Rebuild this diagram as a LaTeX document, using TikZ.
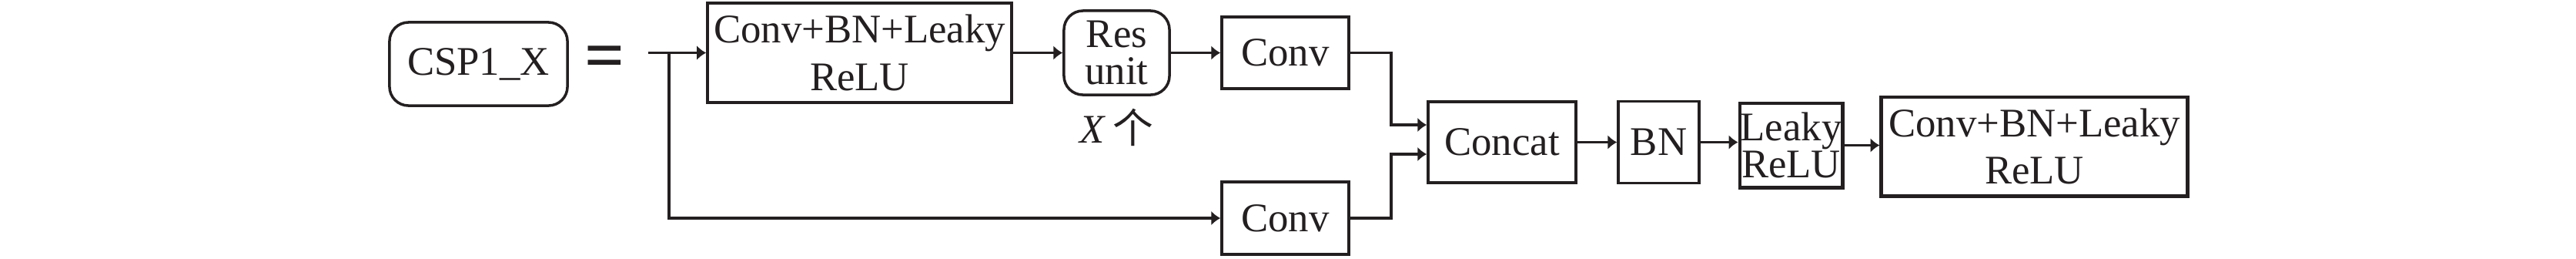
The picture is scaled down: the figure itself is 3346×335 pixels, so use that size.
\documentclass[tikz,border=0pt]{standalone}
\usepackage{fontspec}
\setmainfont{Liberation Serif}
\newfontfamily\cjk{Noto Sans CJK SC}
\usepackage{tikz}
\usetikzlibrary{arrows.meta,calc}
\definecolor{ink}{HTML}{231F20}
\tikzset{
  blk/.style={draw=ink, line width=1pt, fill=white, align=center, inner sep=0pt,
              text=ink, font=\fontsize{15}{17.4}\selectfont},
  tight/.style={blk, font=\fontsize{15}{13.4}\selectfont},
  rblk/.style={blk, rounded corners=5pt},
  hblk/.style={blk, line width=1.4pt},
  arr/.style={-{Latex[length=3.4pt,width=5.4pt]}, line width=1.1pt, draw=ink},
  lbl/.style={font=\fontsize{15}{17.4}\selectfont, text=ink},
}

\begin{document}
\begin{tikzpicture}[x=0.01cm, y=-0.01cm]
  \useasboundingbox (0,0) rectangle (3346,335);
  % left side
  \node[rblk, minimum width=2.31cm, minimum height=1.08cm, rounded corners=7pt] (csp) at (621.5,83) {CSP1\_X};
  \node[text=ink, inner sep=0pt, font=\fontsize{26}{26}\selectfont\bfseries] (eq) at (786,81) {=};
  \coordinate (in) at (842,68.5);
  \coordinate (split) at (869,68.5);
  % upper branch
  \node[blk, minimum width=3.95cm, minimum height=1.29cm] (cbl1) at (1116.5,68.5) {Conv+BN+Leaky\\ReLU};
  \node[tight, rounded corners=7pt, minimum width=1.37cm, minimum height=1.09cm] (res) at (1450.5,68.5) {Res\\unit};
  \node[lbl] (cnt) at (1450,165) {\textit{X}\,{\cjk 个}};
  \node[blk, minimum width=1.65cm, minimum height=0.93cm] (convA) at (1669.5,68.5) {Conv};
  % lower branch
  \node[blk, minimum width=1.65cm, minimum height=0.94cm] (convB) at (1669.5,283) {Conv};
  % merge
  \node[blk, minimum width=1.92cm, minimum height=1.05cm] (concat) at (1951,184.5) {Concat};
  \node[blk, minimum width=1.05cm, minimum height=1.06cm] (bn) at (2154.5,184.5) {BN};
  \node[tight, line width=1.4pt, minimum width=1.33cm, minimum height=1.09cm] (leaky) at (2326.5,188.5) {Leaky\\ReLU};
  \node[hblk, minimum width=3.97cm, minimum height=1.28cm] (cbl2) at (2642.5,190) {Conv+BN+Leaky\\ReLU};
  % connectors
  \draw[arr] (in) -- (cbl1.west);
  \draw[arr] (split) |- (convB.west);
  \draw[arr] (cbl1.east) -- (res.west);
  \draw[arr] (res.east) -- (convA.west);
  \draw[arr] (convA.east) -- ++(53,0) |- ($(concat.west)+(0,-22.5)$);
  \draw[arr] (convB.east) -- ++(53,0) |- ($(concat.west)+(0,15.5)$);
  \draw[arr] (concat.east) -- (bn.west);
  \draw[arr] (bn.east) -- (bn.east -| leaky.west);
  \draw[arr] (leaky.east) -- (leaky.east -| cbl2.west);
\end{tikzpicture}
\end{document}
